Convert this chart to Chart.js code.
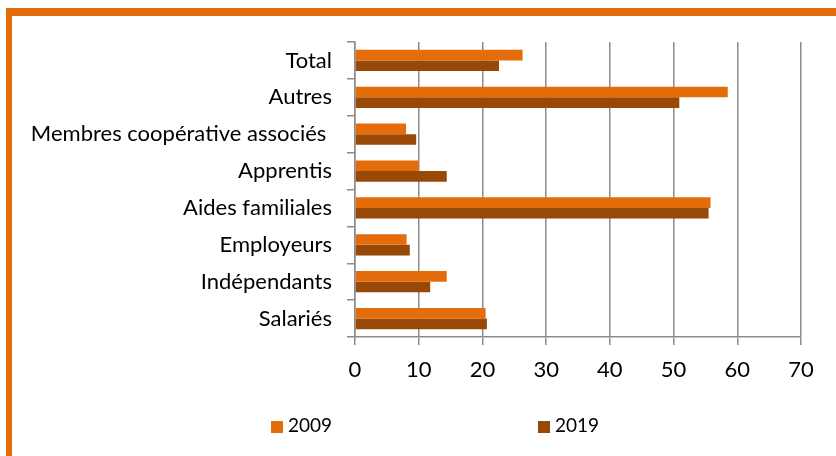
<!DOCTYPE html>
<html>
<head>
<meta charset="utf-8">
<script src="https://cdn.jsdelivr.net/npm/chart.js@4"></script>
<style>
  html, body { margin: 0; padding: 0; background: #fff; }
  #wrap { position: relative; width: 836px; height: 456px; overflow: hidden; }
  #frame {
    position: absolute; left: 6px; top: 8px; width: 900px; height: 500px;
    border-top: 8px solid #E46C0A; border-left: 6px solid #E46C0A;
  }
  #chart { position: absolute; left: 0; top: 0; }
  .leg { position: absolute; top: 415px; font: 19px Lato, sans-serif; color: #000; line-height: 20px; }
  .leg span { display: inline-block; width: 12px; height: 12px; margin-right: 5px; vertical-align: -1px; }
</style>
</head>
<body>
<div id="wrap">
  <div id="frame"></div>
  <canvas id="chart" width="836" height="456"></canvas>
  <div id="legend"></div>
</div>
<script>
const categories = ["Total", "Autres", "Membres coopérative associés ", "Apprentis",
  "Aides familiales", "Employeurs", "Indépendants", "Salariés"];
const seriesNames = ["2009", "2019"];
const values2009 = [26.3, 58.5, 8.0, 10.0, 55.8, 8.1, 14.4, 20.5];
const values2019 = [22.6, 50.9, 9.6, 14.4, 55.5, 8.6, 11.8, 20.7];
const colors = ["#E46C0A", "#984807"];

const gridColor = "#8c8c8c";

const ctx = document.getElementById("chart").getContext("2d");
const chart = new Chart(ctx, {
  type: "bar",
  data: {
    labels: categories,
    datasets: [
      { label: seriesNames[0], data: values2009, backgroundColor: colors[0] },
      { label: seriesNames[1], data: values2019, backgroundColor: colors[1] }
    ]
  },
  options: {
    indexAxis: "y",
    responsive: false,
    animation: false,
    categoryPercentage: 0.578,
    barPercentage: 1,
    layout: { padding: { top: 42, right: 35, bottom: 59, left: 0 } },
    plugins: { legend: { display: false }, tooltip: { enabled: false } },
    scales: {
      x: {
        min: 0, max: 70,
        ticks: { stepSize: 10, color: "#000", font: { family: "Lato", size: 22 }, padding: 12 },
        grid: { color: gridColor, lineWidth: 1.5, tickLength: 8 },
        border: { color: gridColor, width: 1.5 },
        afterFit: s => { s.height = 60; }
      },
      y: {
        ticks: { color: "#000", font: { family: "Lato", size: 22 }, padding: 15 },
        grid: { drawOnChartArea: false, color: gridColor, lineWidth: 1.5, tickLength: 8 },
        border: { color: gridColor, width: 1.5 },
        afterFit: s => { s.width = 355; }
      }
    }
  }
});

// legend
const legend = document.getElementById("legend");
const legendX = [271, 538];
seriesNames.forEach((name, i) => {
  const d = document.createElement("div");
  d.className = "leg";
  d.style.left = legendX[i] + "px";
  d.innerHTML = `<span style="background:${colors[i]}"></span>${name}`;
  legend.appendChild(d);
});
</script>
</body>
</html>
